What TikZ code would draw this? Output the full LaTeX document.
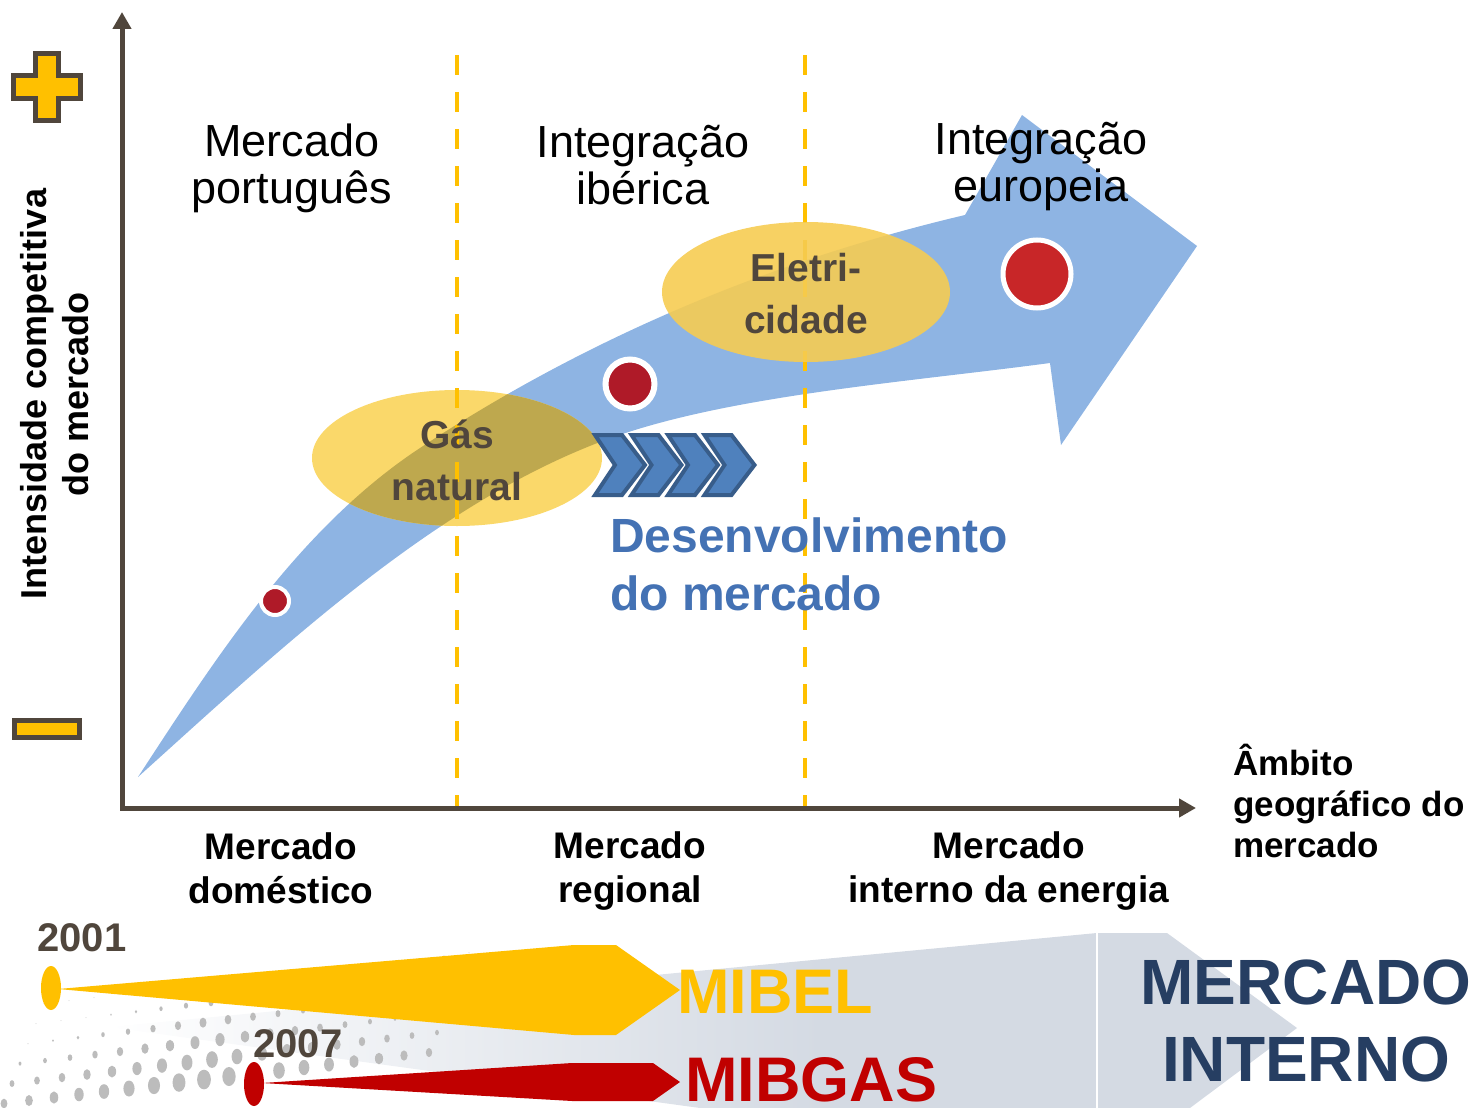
\documentclass[tikz,border=0pt]{standalone}
\usepackage{fontspec}
\setmainfont{Liberation Sans}
\usepackage{tikz}
\usetikzlibrary{arrows.meta,positioning,shapes.geometric}
\usepackage{xcolor}
\definecolor{ink}{RGB}{80,70,60}
\definecolor{gold}{RGB}{255,192,0}
\definecolor{shaft}{RGB}{142,180,227}
\definecolor{gasY}{RGB}{250,216,106}
\definecolor{gasO}{RGB}{190,168,78}
\definecolor{eleY}{RGB}{246,204,82}
\definecolor{dotR}{RGB}{175,26,40}
\definecolor{dotRb}{RGB}{200,38,40}
\definecolor{chevF}{RGB}{79,129,189}
\definecolor{chevD}{RGB}{56,93,138}
\definecolor{devB}{RGB}{68,114,180}
\definecolor{band}{RGB}{212,218,227}
\definecolor{halft}{RGB}{188,188,188}
\definecolor{gasR}{RGB}{192,0,0}
\definecolor{navy}{RGB}{38,62,98}
\tikzset{
  axis/.style={draw=ink,line width=5pt,line join=miter,
    {Triangle[length=17pt,width=18pt]}-{Triangle[length=17pt,width=18pt]}},
  divider/.style={draw=gold,line width=4.5pt,dash pattern=on 20pt off 17pt},
  signbox/.style={draw=ink,fill=gold,line width=5pt},
  hdr/.style={font=\fontsize{45}{47}\selectfont,align=center,inner sep=0pt},
  xlab/.style={font=\fontsize{37}{44}\selectfont\bfseries,align=center,inner sep=0pt},
  ylab/.style={font=\fontsize{36}{42}\selectfont\bfseries,align=center,inner sep=0pt,rotate=90},
  etext/.style={font=\fontsize{39}{52}\selectfont\bfseries,text=ink,align=center,inner sep=0pt},
  dev/.style={font=\fontsize{48}{58}\selectfont\bfseries,text=devB,align=left,inner sep=0pt},
  year/.style={font=\fontsize{40}{44}\selectfont\bfseries,text=ink,inner sep=0pt},
  big/.style={font=\fontsize{63}{77}\selectfont\bfseries,inner sep=0pt},
  dot/.style={circle,fill=dotR,draw=white,inner sep=0pt},
  chev/.style={fill=chevF,draw=chevD,line width=4pt,line join=miter},
}
\pgfdeclarehorizontalshading{bandfade}{100bp}{color(0bp)=(white); color(25bp)=(white);
  color(55bp)=(band); color(100bp)=(band)}
\newcommand{\shaftpath}{(138,777) .. controls (217,656) and (299,528) .. (420,448)
  .. controls (587,338) and (770,261) .. (965,215)
  -- (1022,115) -- (1197,246) -- (1061,445) -- (1050,363)
  .. controls (900,383) and (720,396) .. (600,442)
  .. controls (430,507) and (279,650) .. (138,777) -- cycle}

\begin{document}
\begin{tikzpicture}[x=1pt,y=-1pt]
  \useasboundingbox (0,0) rectangle (1481,1108);

  % timeline band at the bottom
  \shade[shading=bandfade] (108,1027) -- (1097,933) -- (1167,933) -- (1297,1028)
    -- (1190,1108) -- (700,1108) -- cycle;
  \draw[white,line width=1.5pt] (1097,933) -- (1097,1108);
  \foreach \j in {0,...,5}{
    \foreach \i in {0,...,17}{
      \pgfmathsetmacro{\px}{4+25*\i+8*\j}
      \pgfmathsetmacro{\py}{1104-19*\j-0.12*\px}
      \pgfmathsetmacro{\pr}{max(0.5,10-1.6*\j-abs(\px-210)/40)}
      \fill[halft] (\px,\py) ellipse ({0.7*\pr} and {\pr});
    }
  }
  \fill[gold] (51,988) ellipse (10 and 22);
  \fill[gold] (58,989) -- (574,945) -- (616,945) -- (680,990) -- (616,1035)
    -- (574,1035) -- cycle;
  \fill[gasR] (254,1084) ellipse (10 and 22);
  \fill[gasR] (262,1083) -- (572,1063) -- (653,1063) -- (680,1082) -- (653,1101)
    -- (572,1101) -- cycle;

  % curved arrow and the two markets
  \fill[shaft] \shaftpath;
  \coordinate (gas) at (457,458);
  \coordinate (ele) at (806,292);
  \fill[gasY] (gas) ellipse (145 and 68);
  \begin{scope}
    \clip (gas) ellipse (145 and 68);
    \fill[gasO] \shaftpath;
  \end{scope}
  \coordinate (d1t) at (457,55);
  \coordinate (d1b) at (457,808);
  \coordinate (d2t) at (805,55);
  \coordinate (d2b) at (805,808);
  \draw[divider] (d1t) -- (d1b);
  \draw[divider] (d2t) -- (d2b);
  \fill[eleY,opacity=.9] (ele) ellipse (144 and 70);

  \node[dot,minimum size=28pt,line width=4pt] (p1) at (275,601) {};
  \node[dot,minimum size=49pt,line width=6pt] (p2) at (630,384) {};
  \node[dot,fill=dotRb,minimum size=68pt,line width=5pt] (p3) at (1037,274) {};
  \foreach \k in {0,...,3}
    \draw[chev] ({595+36.5*\k},435) -- ++(27,0) -- ++(23,30) -- ++(-23,30) -- ++(-27,0)
      -- ++(20,-30) -- cycle;

  % axes and signs
  \coordinate (O) at (122,808);
  \coordinate (ytip) at (122,12);
  \coordinate (xtip) at (1196,808);
  \draw[axis] (ytip) -- (O) -- (xtip);
  \draw[signbox] (35,54) -- (58,54) -- (58,76) -- (80,76) -- (80,98) -- (58,98) -- (58,120)
    -- (35,120) -- (35,98) -- (13,98) -- (13,76) -- (35,76) -- cycle;
  \draw[signbox] (14.5,720.5) rectangle (79.5,737.5);

  % labels
  \node[ylab] (yl) at (55,394) {Intensidade competitiva\\do mercado};
  \node[hdr] (hPT) at (292,168) {Mercado\\português};
  \node[hdr] (hIB) at (643,165) {Integração\\ibérica};
  \node[hdr] (hEU) at (1041,167) {Integração\\europeia};
  \node[etext] (gastxt) at (457,460) {Gás\\natural};
  \node[etext] (eletxt) at (806,294) {Eletri-\\cidade};
  \node[dev,anchor=west] (devt) at (610,564) {Desenvolvimento\\do mercado};
  \node[xlab] (xDom) at (281,868) {Mercado\\doméstico};
  \node[xlab] (xReg) at (630,871) {Mercado\\regional};
  \node[xlab] (xInt) at (1009,871) {Mercado\\interno da energia};
  \node[xlab,align=left,anchor=west,font=\fontsize{35}{41}\selectfont\bfseries]
    (amb) at (1233,801) {Âmbito\\geográfico do\\mercado};
  \node[year] (y01) at (82,938) {2001};
  \node[year] (y07) at (298,1044) {2007};
  \node[big,text=gold,anchor=west] (mibel) at (677,992) {MIBEL};
  \node[big,text=gasR,anchor=west] (mibgas) at (685,1080) {MIBGAS};
  \node[big,text=navy,align=center,font=\fontsize{64}{77}\selectfont\bfseries]
    (mi) at (1306,1021) {MERCADO\\INTERNO};
\end{tikzpicture}
\end{document}
